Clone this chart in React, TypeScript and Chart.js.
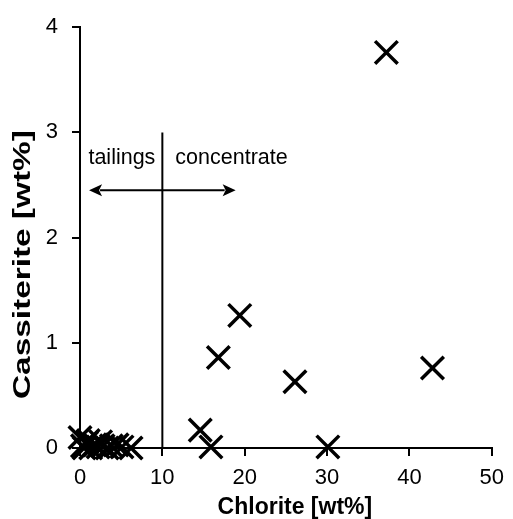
import React, { useEffect, useRef } from "react";
import { Chart, registerables } from "chart.js";

Chart.register(...registerables);

const chloriteValues = [37.2, 19.4, 16.8, 26.1, 42.8, 14.6, 15.9, 30.1, 0.0, 0.3, 0.8, 1.0, 1.3, 1.8, 2.2, 2.5, 2.8, 3.3, 3.8, 4.5, 5.1, 6.2, 0.5];
const cassiteriteValues = [3.76, 1.26, 0.86, 0.63, 0.76, 0.17, 0.01, 0.01, 0.1, 0.02, 0.05, 0.07, 0.0, 0.03, 0.01, 0.06, 0.02, 0.0, 0.02, 0.03, 0.01, 0.0, 0.0];

const xTicks = [0, 10, 20, 30, 40, 50];
const yTicks = [0, 1, 2, 3, 4];

const dividerX = 10;
const dividerYRange = [0, 3];
const arrowXRange = [1.1, 18.9];
const arrowY = 2.45;
const labelTailings = "tailings";
const labelConcentrate = "concentrate";
const labelY = 2.76;

const xTitle = "Chlorite [wt%]";
const yTitle = "Cassiterite [wt%]";

const FONT = "'Liberation Sans', Arial, sans-serif";

const annotationPlugin = {
  id: "annot",
  afterDatasetsDraw(chart: any) {
    const { ctx, scales } = chart;
    const xs = scales.x;
    const ys = scales.y;
    ctx.save();
    ctx.strokeStyle = "#000";
    ctx.fillStyle = "#000";
    ctx.lineWidth = 2;
    const dx = xs.getPixelForValue(dividerX);
    ctx.beginPath();
    ctx.moveTo(dx, ys.getPixelForValue(dividerYRange[0]));
    ctx.lineTo(dx, ys.getPixelForValue(dividerYRange[1]));
    ctx.stroke();
    const ax0 = xs.getPixelForValue(arrowXRange[0]);
    const ax1 = xs.getPixelForValue(arrowXRange[1]);
    const ay = ys.getPixelForValue(arrowY);
    const head = 13;
    const hw = 6;
    ctx.beginPath();
    ctx.moveTo(ax0 + head - 2, ay);
    ctx.lineTo(ax1 - head + 2, ay);
    ctx.stroke();
    ctx.beginPath();
    ctx.moveTo(ax0, ay);
    ctx.lineTo(ax0 + head, ay - hw);
    ctx.lineTo(ax0 + head - 3, ay);
    ctx.lineTo(ax0 + head, ay + hw);
    ctx.closePath();
    ctx.fill();
    ctx.beginPath();
    ctx.moveTo(ax1, ay);
    ctx.lineTo(ax1 - head, ay - hw);
    ctx.lineTo(ax1 - head + 3, ay);
    ctx.lineTo(ax1 - head, ay + hw);
    ctx.closePath();
    ctx.fill();
    const ly = ys.getPixelForValue(labelY);
    ctx.font = `21.5px ${FONT}`;
    ctx.textBaseline = "middle";
    ctx.textAlign = "right";
    ctx.fillText(labelTailings, dx - 7, ly);
    ctx.textAlign = "left";
    ctx.fillText(labelConcentrate, dx + 13, ly);

    // axis titles
    const ca = chart.chartArea;
    ctx.font = `bold 23px ${FONT}`;
    ctx.textAlign = "center";
    ctx.textBaseline = "middle";
    ctx.fillText(xTitle, (ca.left + ca.right) / 2 + 9, 508);
    ctx.save();
    ctx.translate(24, (ca.top + ca.bottom) / 2 + 27);
    ctx.rotate(-Math.PI / 2);
    ctx.scale(1.45, 1);
    ctx.fillText(yTitle, 0, 0);
    ctx.restore();
    ctx.restore();
  },
};

export default function App() {
  const canvasRef = useRef<HTMLCanvasElement | null>(null);

  useEffect(() => {
    document.body.style.margin = "0";
    const canvas = canvasRef.current;
    if (!canvas) return;
    const data = chloriteValues.map((x, i) => ({ x, y: cassiteriteValues[i] }));
    const chart = new Chart(canvas, {
      type: "scatter",
      data: {
        datasets: [
          {
            data,
            clip: false,
            pointStyle: "crossRot",
            pointRadius: 16,
            pointHoverRadius: 16,
            borderColor: "#000",
            backgroundColor: "#000",
            pointBorderWidth: 3.5,
            borderWidth: 3.5,
          },
        ],
      },
      options: {
        animation: false,
        responsive: false,
        maintainAspectRatio: false,
        events: [],
        layout: { padding: { top: 22, right: 21, left: 0, bottom: 0 } },
        plugins: { legend: { display: false }, tooltip: { enabled: false } },
        scales: {
          x: {
            type: "linear",
            min: 0,
            max: 50,
            afterBuildTicks: (s: any) => {
              s.ticks = xTicks.map((v) => ({ value: v }));
            },
            afterFit: (s: any) => {
              s.height = 71;
            },
            grid: { drawOnChartArea: false, drawTicks: true, tickLength: 8, color: "#000", lineWidth: 2 },
            border: { display: true, color: "#000", width: 2 },
            ticks: { color: "#000", font: { family: FONT, size: 22 }, padding: 9, maxRotation: 0 },
            title: { display: false, text: xTitle },
          },
          y: {
            type: "linear",
            min: 0,
            max: 4,
            afterBuildTicks: (s: any) => {
              s.ticks = yTicks.map((v) => ({ value: v }));
            },
            afterFit: (s: any) => {
              s.width = 80;
            },
            grid: { drawOnChartArea: false, drawTicks: true, tickLength: 8, color: "#000", lineWidth: 2 },
            border: { display: true, color: "#000", width: 2 },
            ticks: { color: "#000", font: { family: FONT, size: 22 }, padding: 14 },
            title: { display: false, text: yTitle },
          },
        },
      },
      plugins: [annotationPlugin],
    });
    return () => chart.destroy();
  }, []);

  return (
    <div style={{ position: "absolute", left: 0, top: 0, width: 513, height: 519 }}>
      <canvas ref={canvasRef} width={513} height={519} style={{ width: 513, height: 519 }} />
    </div>
  );
}
